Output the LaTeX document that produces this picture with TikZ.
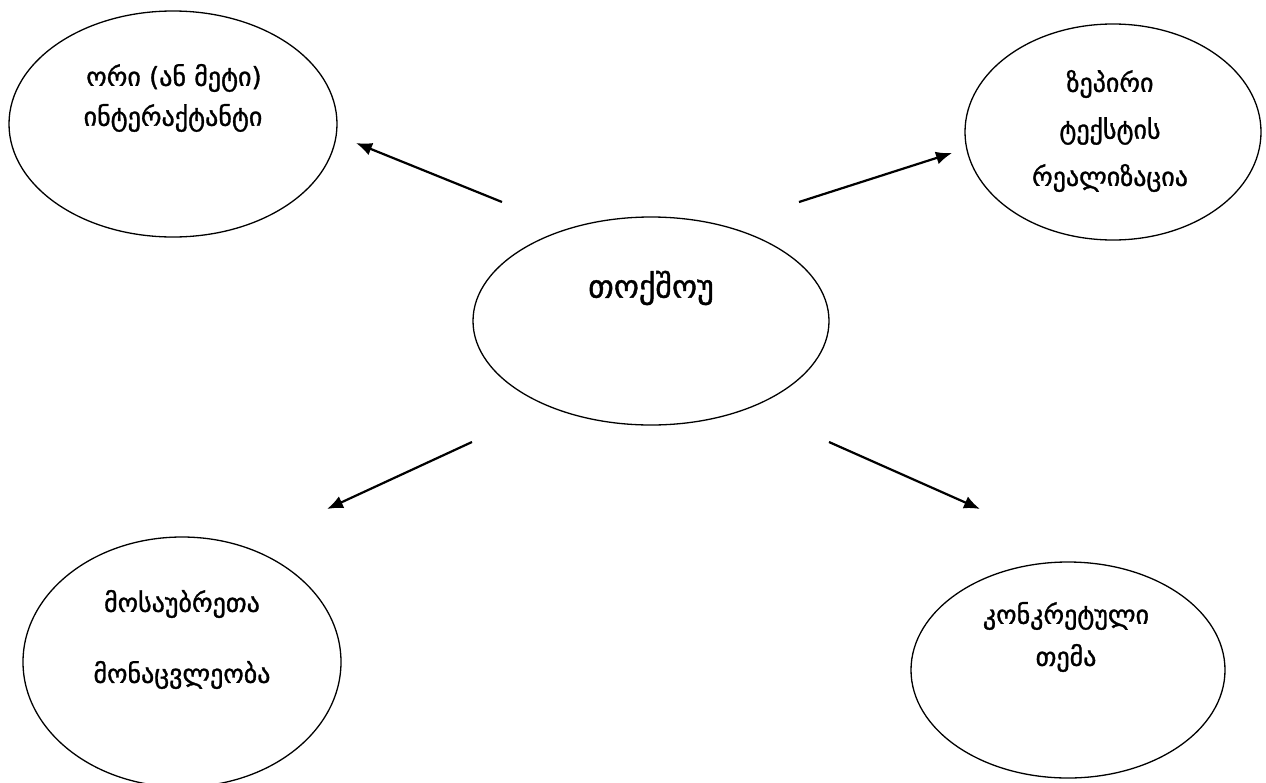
\documentclass[tikz,border=0pt]{standalone}
\usepackage{fontspec}
\setmainfont{DejaVu Sans}
\newfontfamily\geofont[FakeBold=1.2]{DejaVu Sans}
\usetikzlibrary{shapes.geometric,arrows.meta}
\begin{document}
\begin{tikzpicture}[x=1pt,y=-1pt,
  bubble/.style={draw=black,line width=1.3pt,ellipse,inner sep=0pt},
  lbl/.style={font=\geofont\fontsize{26}{30}\selectfont,inner sep=0pt,anchor=center},
  big/.style={font=\geofont\fontsize{32}{36}\selectfont,inner sep=0pt,anchor=center},
  arr/.style={line width=2.2pt,-{Latex[length=16pt,width=13pt]}}]
\useasboundingbox (0,0) rectangle (1266,782);
\node[bubble,minimum width=328pt,minimum height=226pt] (tl) at (173,124) {};
\node[bubble,minimum width=296pt,minimum height=216pt] (tr) at (1113,132) {};
\node[bubble,minimum width=356pt,minimum height=208pt] (c) at (651,321) {};
\node[bubble,minimum width=318pt,minimum height=250pt] (bl) at (182,662) {};
\node[bubble,minimum width=314pt,minimum height=216pt] (br) at (1068,670) {};
\node[lbl] (tl1) at (174,78) {ორი (ან მეტი)};
\node[lbl] (tl2) at (173,118) {ინტერაქტანტი};
\node[lbl] (tr1) at (1110,84) {ზეპირი};
\node[lbl] (tr2) at (1110,131) {ტექსტის};
\node[lbl] (tr3) at (1110,178) {რეალიზაცია};
\node[big] (c1) at (651,288) {თოქშოუ};
\node[lbl] (bl1) at (182,604) {მოსაუბრეთა};
\node[lbl] (bl2) at (182,675) {მონაცვლეობა};
\node[lbl] (br1) at (1066,616) {კონკრეტული};
\node[lbl] (br2) at (1066,658) {თემა};
\coordinate (a1s) at (502,202); \coordinate (a1e) at (356,143);
\coordinate (a2s) at (799,202); \coordinate (a2e) at (952,153);
\coordinate (a3s) at (472,442); \coordinate (a3e) at (327,509);
\coordinate (a4s) at (829,442); \coordinate (a4e) at (980,509);
\draw[arr] (a1s) -- (a1e);
\draw[arr] (a2s) -- (a2e);
\draw[arr] (a3s) -- (a3e);
\draw[arr] (a4s) -- (a4e);
\end{tikzpicture}
\end{document}
